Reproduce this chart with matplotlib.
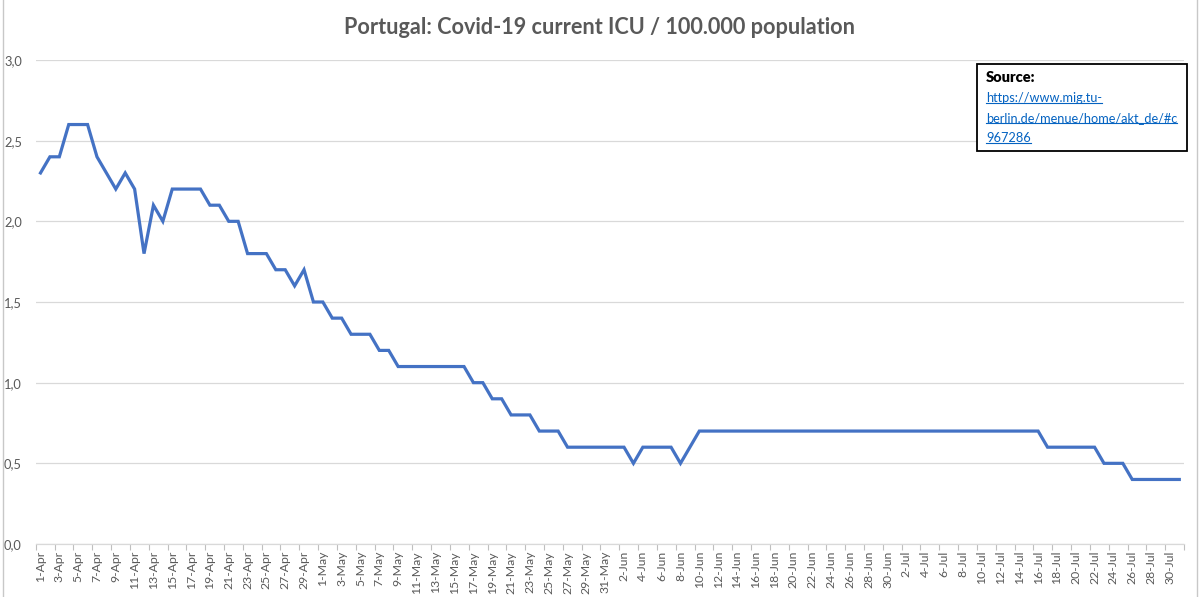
import numpy as np
import pandas as pd
import matplotlib.pyplot as plt
from matplotlib.lines import Line2D
from matplotlib.patches import Rectangle

# daily dates, 1 Apr - 31 Jul 2020
dates = pd.date_range('2020-04-01', '2020-07-31', freq='D')
labels = [f"{d.day}-{d.strftime('%b')}" for d in dates]

# ICU per 100.000 population
icu = [
    2.3, 2.4, 2.4, 2.6, 2.6, 2.6, 2.4, 2.3, 2.2, 2.3,   # 1-10 Apr
    2.2, 1.8, 2.1, 2.0, 2.2, 2.2, 2.2, 2.2, 2.1, 2.1,   # 11-20 Apr
    2.0, 2.0, 1.8, 1.8, 1.8, 1.7, 1.7, 1.6, 1.7, 1.5,   # 21-30 Apr
    1.5, 1.4, 1.4, 1.3, 1.3, 1.3, 1.2, 1.2, 1.1, 1.1,   # 1-10 May
    1.1, 1.1, 1.1, 1.1, 1.1, 1.1, 1.0, 1.0, 0.9, 0.9,   # 11-20 May
    0.8, 0.8, 0.8, 0.7, 0.7, 0.7, 0.6, 0.6, 0.6, 0.6,   # 21-30 May
    0.6, 0.6, 0.6, 0.5, 0.6, 0.6, 0.6, 0.6, 0.5, 0.6,   # 31 May - 9 Jun
    0.7, 0.7, 0.7, 0.7, 0.7, 0.7, 0.7, 0.7, 0.7, 0.7,   # 10-19 Jun
    0.7, 0.7, 0.7, 0.7, 0.7, 0.7, 0.7, 0.7, 0.7, 0.7,   # 20-29 Jun
    0.7, 0.7, 0.7, 0.7, 0.7, 0.7, 0.7, 0.7, 0.7, 0.7,   # 30 Jun - 9 Jul
    0.7, 0.7, 0.7, 0.7, 0.7, 0.7, 0.7, 0.6, 0.6, 0.6,   # 10-19 Jul
    0.6, 0.6, 0.6, 0.5, 0.5, 0.5, 0.4, 0.4, 0.4, 0.4,   # 20-29 Jul
    0.4, 0.4,                                           # 30-31 Jul
]

y_ticks = [0.0, 0.5, 1.0, 1.5, 2.0, 2.5, 3.0]
title = 'Portugal: Covid-19 current ICU / 100.000 population'
source_url = ['https://www.mig.tu-', 'berlin.de/menue/home/akt_de/#c', '967286']

plt.rcParams['font.family'] = ['Lato', 'DejaVu Sans']
gray = '#595959'

fig = plt.figure(figsize=(12, 5.97), dpi=100)
ax = fig.add_axes([35.8 / 1200, 53 / 597, (1184 - 35.8) / 1200, 484 / 597])

x = np.arange(len(icu))
ax.plot(x, icu, color='#4472C4', linewidth=2.3, solid_joinstyle='miter')

ax.set_xlim(-0.5, len(icu) - 0.5)
ax.set_ylim(0, 3)
ax.set_yticks(y_ticks)
ax.set_yticklabels([f'{v:.1f}'.replace('.', ',') for v in y_ticks])
ax.grid(axis='y', color='#D9D9D9', linewidth=0.9)
ax.set_axisbelow(True)

ax.set_xticks(x[::2])
ax.set_xticklabels(labels[::2], rotation=90)
ax.set_xticks(np.arange(-0.5, len(icu), 2), minor=True)
ax.tick_params(axis='x', which='major', length=0, pad=5, labelsize=8.8, colors=gray)
ax.tick_params(axis='x', which='minor', length=4, color='#BFBFBF', width=0.8)
ax.tick_params(axis='y', length=0, pad=10, labelsize=9.3, colors=gray)

for s in ['top', 'right', 'left']:
    ax.spines[s].set_visible(False)
ax.spines['bottom'].set_color('#D9D9D9')
ax.spines['bottom'].set_linewidth(0.9)

fig.text(600 / 1200, 1 - 28 / 597, title, ha='center', va='center',
         fontsize=15.6, fontweight='bold', color=gray)

# source box
fig.patches.append(Rectangle((977 / 1200, 1 - 151 / 597), 210 / 1200, 87 / 597,
                             transform=fig.transFigure, facecolor='white',
                             edgecolor='black', linewidth=1.3, zorder=5))
fig.text(986 / 1200, 1 - 77 / 597, 'Source:', ha='left', va='center',
         fontsize=10.5, fontweight='heavy', color='black', zorder=6)
link_texts = []
for i, line in enumerate(source_url):
    t = fig.text(986 / 1200, 1 - (98 + 20 * i) / 597, line, ha='left', va='center',
                 fontsize=9.2, color='#0563C1', zorder=6)
    link_texts.append(t)

# underline the link
fig.canvas.draw()
renderer = fig.canvas.get_renderer()
for t in link_texts:
    bb = t.get_window_extent(renderer).transformed(fig.transFigure.inverted())
    yy = bb.y0 + 1.5 / 597
    fig.add_artist(Line2D([bb.x0, bb.x1], [yy, yy], color='#0563C1', linewidth=0.8, zorder=6))

# chart border lines of the screenshot
fig.add_artist(Line2D([3 / 1200, 3 / 1200], [0, 1], color='#C8C8C8', linewidth=1))
fig.add_artist(Line2D([1197 / 1200, 1197 / 1200], [0, 1], color='#C8C8C8', linewidth=1))

fig.savefig('out.png', dpi=100)
